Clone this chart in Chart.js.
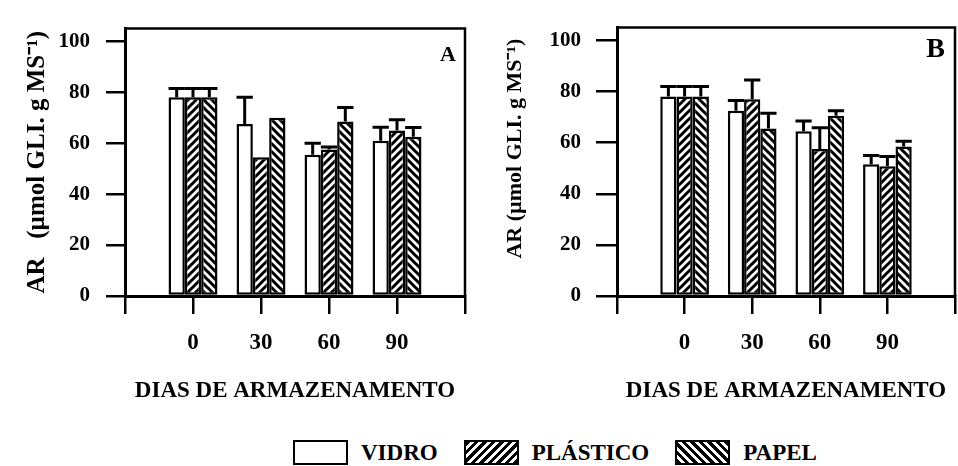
<!DOCTYPE html>
<html>
<head>
<meta charset="utf-8">
<script src="https://cdn.jsdelivr.net/npm/chart.js@4"></script>
<style>
  html, body { margin: 0; padding: 0; background: #fff; }
  #page { position: relative; width: 958px; height: 466px; overflow: hidden; }
  .panel { position: absolute; top: 0; height: 410px; }
  #wrapA { left: 0; width: 480px; }
  #wrapB { left: 480px; width: 490px; }
  #legend {
    position: absolute; left: 293px; top: 440px; height: 25px;
    display: flex; align-items: center;
    font: bold 23px "Liberation Serif", serif; color: #000;
  }
  .box { width: 51px; height: 21px; border: 2px solid #000; margin-right: 13px; }
  .lbl { margin-right: 26px; }
  .vidro { background: #fff; }
  .plastico { background: repeating-linear-gradient(-45deg, #000 0 3px, #fff 3px 6px); }
  .papel { background: repeating-linear-gradient(45deg, #000 0 3px, #fff 3px 6px); }
</style>
</head>
<body>
<div id="page">
  <div class="panel" id="wrapA"><canvas id="chartA"></canvas></div>
  <div class="panel" id="wrapB"><canvas id="chartB"></canvas></div>
  <div id="legend">
    <div class="box vidro"></div><span class="lbl">VIDRO</span>
    <div class="box plastico"></div><span class="lbl">PLÁSTICO</span>
    <div class="box papel"></div><span class="lbl">PAPEL</span>
  </div>
</div>
<script>
// dias de armazenamento
const dias = ['0', '30', '60', '90'];
const yTicks = [0, 20, 40, 60, 80, 100];

// painel A
const vidroA = [78, 67.5, 55.5, 61];
const plasticoA = [78, 54.5, 57.5, 65];
const papelA = [78, 70, 68.5, 62.5];
const errVidroA = [3.5, 10.5, 4.5, 5.3];
const errPlasticoA = [3.5, 0, 1, 4.2];
const errPapelA = [3.5, 0, 5.5, 3.7];

// painel B
const vidroB = [78, 72.5, 64.5, 51.5];
const plasticoB = [78, 77, 57.5, 50.8];
const papelB = [78, 65.5, 70.5, 58.5];
const errVidroB = [4, 4, 4, 3.5];
const errPlasticoB = [4, 7.5, 8.3, 3.8];
const errPapelB = [4, 6, 2, 2];

const FONT = '"Liberation Serif", "Times New Roman", serif';

// hachuras das barras
const makeHatch = (dir) => {
  const c = document.createElement('canvas');
  c.width = 8; c.height = 8;
  const g = c.getContext('2d');
  g.fillStyle = '#fff';
  g.fillRect(0, 0, 8, 8);
  g.strokeStyle = '#000';
  g.lineWidth = 3;
  g.beginPath();
  if (dir === '/') {
    g.moveTo(-2, 10); g.lineTo(10, -2);
    g.moveTo(-2, 2); g.lineTo(2, -2);
    g.moveTo(6, 10); g.lineTo(10, 6);
  } else {
    g.moveTo(-2, -2); g.lineTo(10, 10);
    g.moveTo(-2, 6); g.lineTo(2, 10);
    g.moveTo(6, -2); g.lineTo(10, 2);
  }
  g.stroke();
  return g.createPattern(c, 'repeat');
};

// categorias vazias nas pontas do eixo
const pad = arr => [null, ...arr, null];
const labels = pad(dias).map(d => d === null ? '' : d);

const errorBars = {
  id: 'errorBars',
  afterDatasetsDraw(chart) {
    const ctx = chart.ctx;
    const yScale = chart.scales.y;
    ctx.save();
    ctx.strokeStyle = '#000';
    ctx.lineWidth = 3;
    chart.data.datasets.forEach((ds, i) => {
      const meta = chart.getDatasetMeta(i);
      meta.data.forEach((bar, j) => {
        const v = ds.data[j];
        const e = ds.errors[j];
        if (v == null || !e) return;
        const yTop = yScale.getPixelForValue(v + e);
        const half = bar.width / 2;
        ctx.beginPath();
        ctx.moveTo(bar.x, bar.y);
        ctx.lineTo(bar.x, yTop);
        ctx.moveTo(bar.x - half, yTop);
        ctx.lineTo(bar.x + half, yTop);
        ctx.stroke();
      });
    });
    ctx.restore();
  }
};

const frame = {
  id: 'frame',
  afterDraw(chart, args, opts) {
    const {ctx, chartArea: a} = chart;
    ctx.save();
    ctx.strokeStyle = '#000';
    ctx.lineWidth = 2.5;
    ctx.beginPath();
    ctx.moveTo(a.left, a.top);
    ctx.lineTo(a.right, a.top);
    ctx.lineTo(a.right, a.bottom);
    ctx.stroke();
    ctx.fillStyle = '#000';
    ctx.font = `bold ${opts.size}px ${FONT}`;
    ctx.textAlign = 'right';
    ctx.textBaseline = 'alphabetic';
    ctx.fillText(opts.letter, a.right - opts.dx, a.top + opts.dy);
    ctx.restore();
  }
};

const makeChart = (id, vidro, plastico, papel, eV, eP, eC, cfg) => {
  const plasticFill = makeHatch('/');
  const paperFill = makeHatch('\\');
  const common = { borderColor: '#000', borderWidth: 2.5, borderSkipped: false,
    barPercentage: 1, categoryPercentage: 0.72 };
  return new Chart(document.getElementById(id), {
    type: 'bar',
    data: {
      labels,
      datasets: [
        { label: 'VIDRO', data: pad(vidro), errors: pad(eV), backgroundColor: '#fff', ...common },
        { label: 'PLÁSTICO', data: pad(plastico), errors: pad(eP), backgroundColor: plasticFill, ...common },
        { label: 'PAPEL', data: pad(papel), errors: pad(eC), backgroundColor: paperFill, ...common }
      ]
    },
    options: {
      responsive: true,
      maintainAspectRatio: false,
      animation: false,
      layout: { padding: { top: 13, right: cfg.right, left: 0, bottom: 0 } },
      plugins: {
        legend: { display: false },
        tooltip: { enabled: false },
        frame: cfg.frame
      },
      scales: {
        x: {
          offset: false,
          grid: { offset: false, drawOnChartArea: false, drawTicks: true, tickLength: 18, color: '#000', lineWidth: 2.5 },
          border: { display: true, color: '#000', width: 3 },
          ticks: { color: '#000', padding: 15, maxRotation: 0, autoSkip: false,
            font: { family: FONT, size: 23, weight: 'bold' } },
          title: { display: true, text: 'DIAS DE ARMAZENAMENTO', color: '#000',
            padding: { top: 4, bottom: 5 }, font: { family: FONT, size: 23, weight: 'bold' } },
          afterFit: s => { s.height = 114; }
        },
        y: {
          min: 0,
          max: 105,
          afterBuildTicks: s => { s.ticks = yTicks.map(value => ({ value })); },
          grid: { drawOnChartArea: false, drawTicks: true, tickLength: cfg.tickLen, color: '#000', lineWidth: 2.5 },
          border: { display: true, color: '#000', width: 3 },
          ticks: { color: '#000', padding: cfg.tickPad, font: { family: FONT, size: 21, weight: 'bold' } },
          title: { display: true, text: cfg.yTitle, color: '#000', align: cfg.titleAlign,
            padding: { top: cfg.titlePad, bottom: 0 }, font: { family: FONT, size: cfg.titleSize, weight: 'bold' } },
          afterFit: s => { s.width = cfg.yWidth; }
        }
      }
    },
    plugins: [errorBars, frame]
  });
};

makeChart('chartA', vidroA, plasticoA, papelA, errVidroA, errPlasticoA, errPapelA, {
  right: 14, yWidth: 125, tickLen: 19, tickPad: 16, titlePad: 23, titleSize: 25, titleAlign: 'center',
  yTitle: 'AR   (µmol GLI. g MS⁻¹)',
  frame: { letter: 'A', size: 22, dx: 9, dy: 32 }
});

makeChart('chartB', vidroB, plasticoB, papelB, errVidroB, errPlasticoB, errPapelB, {
  right: 8, yWidth: 137, tickLen: 21, tickPad: 15, titlePad: 22, titleSize: 22, titleAlign: 'end',
  yTitle: 'AR (µmol GLI. g MS⁻¹)  ',
  frame: { letter: 'B', size: 28, dx: 10, dy: 29 }
});
</script>
</body>
</html>
